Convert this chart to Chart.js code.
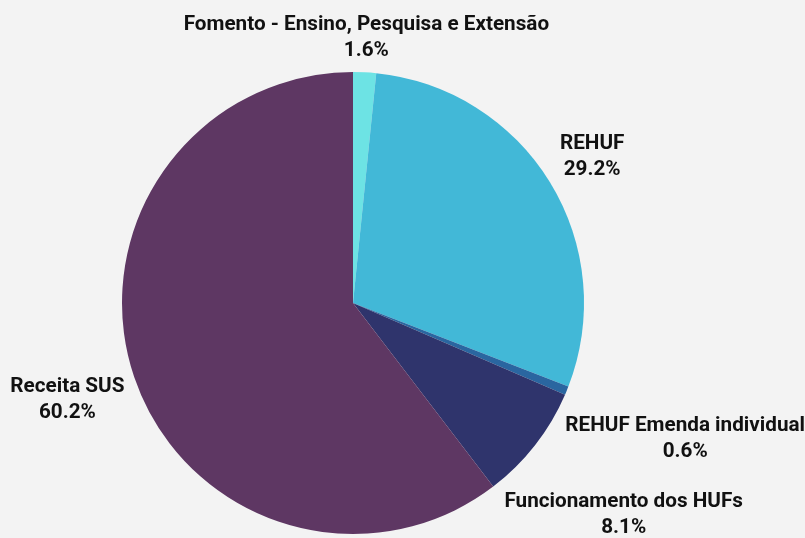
<!DOCTYPE html>
<html lang="pt">
<head>
<meta charset="UTF-8">
<title>Distribuição de recursos</title>
<script src="https://cdn.jsdelivr.net/npm/chart.js"></script>
<style>
  html, body { margin: 0; padding: 0; background: #f3f3f3; }
  #wrap { width: 805px; height: 538px; position: relative; }
</style>
</head>
<body>
<div id="wrap"><canvas id="pie"></canvas></div>
<script>
const labels = ['Fomento - Ensino, Pesquisa e Extensão', 'REHUF', 'REHUF Emenda individual', 'Funcionamento dos HUFs', 'Receita SUS'];
const shares = [1.6, 29.2, 0.6, 8.1, 60.2];
const colors = ['#6de3e4', '#42b8d7', '#2a66a0', '#2f346c', '#5e3763'];

// outside labels: push each box out along the slice's mid angle until it clears the pie
const outsideLabels = {
  id: 'outsideLabels',
  afterDraw(chart) {
    const ctx = chart.ctx;
    const meta = chart.getDatasetMeta(0);
    const lineH = 26, gap = 8;
    ctx.save();
    ctx.font = 'bold 20.7px Roboto';
    ctx.fillStyle = '#111';
    ctx.textAlign = 'center';
    ctx.textBaseline = 'middle';
    meta.data.forEach((arc, i) => {
      const { x: cx, y: cy, outerRadius: r, startAngle, endAngle } = arc.getProps(['x', 'y', 'outerRadius', 'startAngle', 'endAngle'], true);
      const mid = (startAngle + endAngle) / 2;
      const lines = [labels[i], shares[i].toFixed(1) + '%'];
      const w = Math.max(...lines.map(t => ctx.measureText(t).width));
      const h = lines.length * lineH;
      const ux = Math.cos(mid), uy = Math.sin(mid);
      let d = r;
      for (; d < r + 400; d += 0.5) {
        const bx = cx + d * ux, by = cy + d * uy;
        const nx = Math.max(bx - w / 2, Math.min(cx, bx + w / 2));
        const ny = Math.max(by - h / 2, Math.min(cy, by + h / 2));
        if (Math.hypot(nx - cx, ny - cy) >= r + gap) break;
      }
      const bx = cx + d * ux, by = cy + d * uy;
      lines.forEach((t, k) => {
        ctx.fillText(t, bx, by - h / 2 + lineH * (k + 0.5));
      });
    });
    ctx.restore();
  }
};

new Chart(document.getElementById('pie'), {
  type: 'pie',
  data: {
    labels: labels,
    datasets: [{
      data: shares,
      backgroundColor: colors,
      borderWidth: 0
    }]
  },
  options: {
    responsive: true,
    maintainAspectRatio: false,
    animation: false,
    layout: { padding: { left: 122, right: 221, top: 72, bottom: 4 } },
    plugins: {
      legend: { display: false },
      tooltip: { enabled: false }
    }
  },
  plugins: [outsideLabels]
});
</script>
</body>
</html>
